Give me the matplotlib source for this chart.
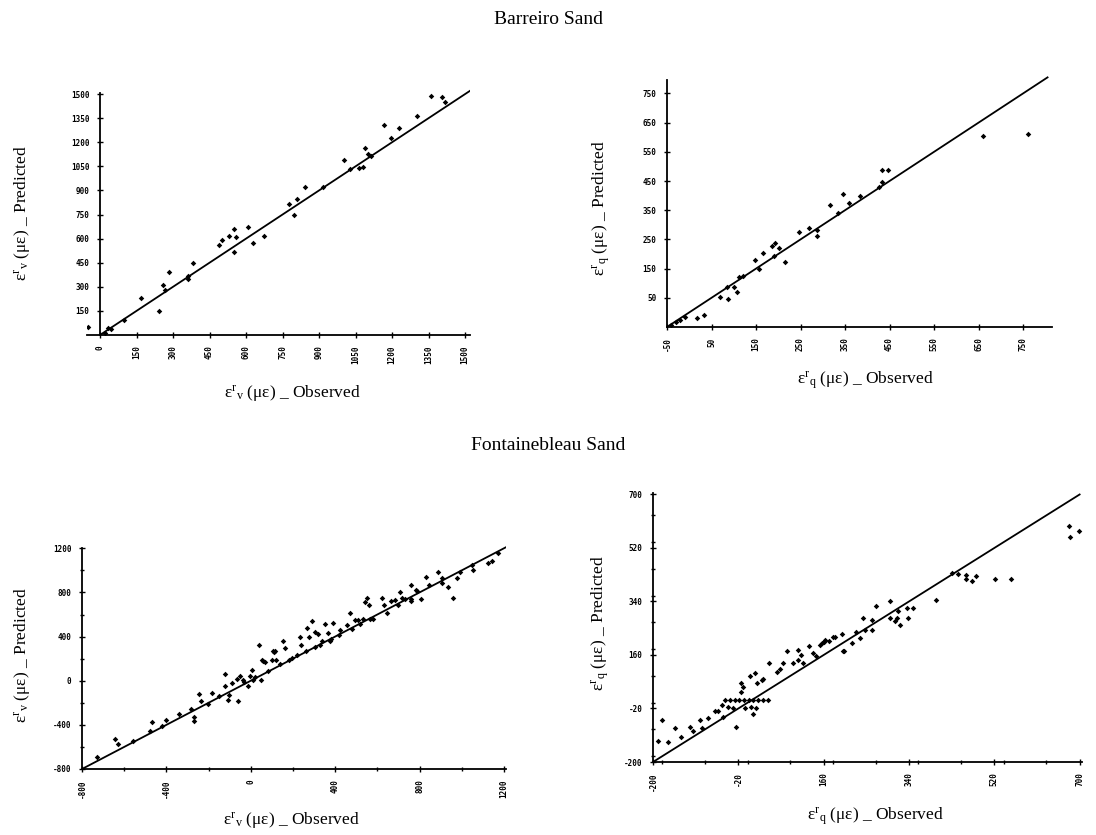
import matplotlib
matplotlib.use("Agg")
import matplotlib.pyplot as plt
from matplotlib.ticker import FixedLocator, MultipleLocator

plt.rcParams['font.family'] = ['Liberation Serif', 'DejaVu Serif']
plt.rcParams['mathtext.fontset'] = 'custom'
plt.rcParams['mathtext.rm'] = 'Liberation Serif'
plt.rcParams['mathtext.it'] = 'Liberation Serif:italic'

# ---------------- data ----------------
title_top = "Barreiro Sand"
title_bottom = "Fontainebleau Sand"

# Barreiro, volumetric
obs1 = [-48, 20, 34, 45, 99, 168, 243, 260, 267, 284, 363, 360, 381, 489, 500, 532, 551, 559, 551,
        607, 630, 675, 777, 795, 808, 843, 918, 1003, 1027, 1062, 1082, 1089, 1103, 1114, 1165,
        1195, 1230, 1304, 1360, 1404, 1418]
pred1 = [48, 15, 42, 35, 93, 230, 151, 311, 280, 390, 346, 365, 446, 560, 591, 618, 660, 612, 516,
         670, 575, 618, 815, 747, 846, 919, 919, 1089, 1031, 1041, 1043, 1166, 1124, 1114, 1307,
         1224, 1290, 1365, 1487, 1479, 1452]

# Barreiro, deviatoric
obs2 = [-40, -30, -21, -10, 18, 33, 69, 84, 88, 101, 107, 112, 121, 148, 157, 165, 185, 190, 193,
        202, 214, 247, 270, 286, 287, 316, 335, 346, 360, 384, 427, 432, 432, 447, 661, 760]
pred2 = [-42, -33, -26, -15, -18, -10, 52, 86, 45, 88, 69, 121, 123, 180, 148, 203, 228, 194, 237,
         222, 174, 274, 289, 263, 283, 368, 340, 405, 374, 397, 428, 445, 489, 489, 603, 612]

# Fontainebleau, volumetric
obs3 = [-727, -644, -628, -560, -470, -478, -420, -402, -340, -283, -269, -269, -245, -237, -201,
        -182, -150, -122, -107, -102, -122, -90, -59, -67, -51, -36, -30, -12, -4, 4, 12, 20, 39,
        47, 52, 59, 69, 80, 99, 107, 110, 115, 119, 140, 151, 162, 180, 194, 220, 233, 237, 260,
        268, 276, 292, 304, 304, 320, 330, 336, 352, 364, 378, 380, 391, 420, 423, 454, 470, 480,
        494, 509, 520, 533, 541, 549, 562, 565, 580, 620, 631, 647, 663, 683, 700, 707, 715, 731,
        759, 758, 760, 783, 790, 805, 833, 846, 889, 905, 905, 933, 957, 979, 991, 1047, 1052,
        1126, 1142, 1173]
pred3 = [-694, -528, -573, -545, -377, -459, -410, -353, -302, -253, -329, -362, -120, -181, -208,
         -111, -140, 61, -172, -127, -45, -21, -181, 15, 39, 9, -10, -52, 39, 100, 9, 30, 326,
         9, 190, 175, 167, 90, 190, 265, 256, 272, 190, 150, 356, 296, 190, 205, 230, 395, 326,
         270, 477, 392, 543, 310, 446, 420, 320, 356, 513, 431, 356, 380, 522, 410, 462, 507, 613,
         470, 552, 552, 510, 558, 709, 748, 688, 558, 560, 748, 688, 618, 718, 733, 690, 808, 748,
         738, 724, 869, 740, 824, 815, 739, 938, 869, 989, 929, 884, 848, 748, 935, 989, 1050,
         1005, 1065, 1089, 1161]

# Fontainebleau, deviatoric
obs4 = [-189, -180, -168, -154, -141, -122, -115, -96, -101, -83, -69, -62, -55, -52, -41, -31,
        -24, -15, -11, -15, -6, 4, 6, 11, 17, 16, 19, 29, 45, 33, 61, 68, 75, 82, 96, 106, 113,
        116, 129, 137, 144, 156, 162, 172, 184, 198, 203, -48, -38, -28, -18, -8, 2, 12, 22, 32,
        42, 106, 152, 161, 180, 201, 219, 229, 236, 242, 247, 261, 261, 270, 299, 299, 310, 317,
        315, 321, 335, 338, 349, 396, 430, 443, 461, 461, 472, 482, 521, 556, 677, 679, 698]
pred4 = [-128, -58, -132, -84, -115, -81, -95, -86, -58, -53, -30, -30, -8, -47, -14, -18,
         -83, 37, 52, 65, -19, 88, -14, -38, -19, 99, 65, 76, 133, 78, 104, 112, 133, 172, 133,
         144, 161, 133, 189, 166, 155, 200, 211, 207, 222, 231, 172, 7, 7, 7, 7, 7, 7, 7, 7, 7,
         7, 177, 194, 203, 222, 175, 200, 239, 217, 284, 245, 279, 245, 326, 340, 284, 273, 307,
         285, 262, 318, 284, 318, 346, 436, 434, 430, 415, 408, 425, 416, 416, 593, 556, 576]

# 1:1 reference line extents
ref1 = [0, 1530]
ref2 = [-50, 805]
ref3 = [-800, 1215]
ref4 = [-200, 700]

ticks1 = [0, 150, 300, 450, 600, 750, 900, 1050, 1200, 1350, 1500]
ticks1y = [150, 300, 450, 600, 750, 900, 1050, 1200, 1350, 1500]
ticks2x = [-50, 50, 150, 250, 350, 450, 550, 650, 750]
ticks2y = [50, 150, 250, 350, 450, 550, 650, 750]
ticks3 = [-800, -400, 0, 400, 800, 1200]
ticks4 = [-200, -20, 160, 340, 520, 700]

# ---------------- figure ----------------
W, H = 1096, 835
fig = plt.figure(figsize=(W / 100, H / 100), dpi=100)


def box(l, r, t, b):
    return [l / W, 1 - b / H, (r - l) / W, (b - t) / H]


tickfont = dict(family='DejaVu Sans Mono', weight='bold', size=5.5)


def style(ax, xt, yt, xlim, ylim, xminor=None, yminor=None, left_at=None, ybounds=None):
    if left_at is not None:
        ax.spines['left'].set_position(('data', left_at))
    ax.set_xlim(*xlim)
    ax.set_ylim(*ylim)
    ax.spines['top'].set_visible(False)
    ax.spines['right'].set_visible(False)
    for s in ('left', 'bottom'):
        ax.spines[s].set_linewidth(1.3)
    if ybounds is not None:
        ax.spines['left'].set_bounds(*ybounds)
    ax.xaxis.set_major_locator(FixedLocator(xt))
    ax.yaxis.set_major_locator(FixedLocator(yt))
    ax.set_xticklabels([str(v) for v in xt], rotation=90, **tickfont)
    ax.set_yticklabels([str(v) for v in yt], **tickfont)
    if xminor:
        ax.xaxis.set_minor_locator(MultipleLocator(xminor))
    if yminor:
        ax.yaxis.set_minor_locator(MultipleLocator(yminor))
    ax.tick_params(which='major', direction='inout', length=5, width=1, pad=5)
    ax.tick_params(which='minor', direction='inout', length=3, width=1)
    ax.patch.set_alpha(0)


def panel(pos, obs, pred, ref):
    ax = fig.add_axes(pos)
    ax.plot(ref, ref, color='black', lw=1.3, zorder=2)
    ax.scatter(obs, pred, s=8, marker='D', color='black', linewidths=0, zorder=3)
    return ax


ax1 = panel(box(86.6, 470, 86, 335), obs1, pred1, ref1)
style(ax1, ticks1, ticks1y, (-55, 1520), (0, 1550), left_at=0, ybounds=(0, 1505))

ax2 = panel(box(667, 1052, 73, 327), obs2, pred2, ref2)
style(ax2, ticks2x, ticks2y, (-50, 815), (-50, 820), ybounds=(-50, 795))

ax3 = panel(box(82, 506, 545, 769), obs3, pred3, ref3)
style(ax3, ticks3, ticks3, (-800, 1210), (-800, 1230), 200, 200, ybounds=(-800, 1205))

ax4 = panel(box(653, 1082, 493, 762), obs4, pred4, ref4)
style(ax4, ticks4, ticks4, (-200, 705), (-200, 705), 90, 90)

# titles
fig.text(548 / W, 1 - 20 / H, title_top, ha='center', va='center', fontsize=14)
fig.text(548 / W, 1 - 446 / H, title_bottom, ha='center', va='center', fontsize=14)

lab_v_obs = r'$\mathrm{\varepsilon}^{\mathrm{r}}{}_{\mathrm{v}}$ ($\mathrm{\mu\varepsilon}$) _ Observed'
lab_v_pred = r'$\mathrm{\varepsilon}^{\mathrm{r}}{}_{\mathrm{v}}$ ($\mathrm{\mu\varepsilon}$) _ Predicted'
lab_q_obs = r'$\mathrm{\varepsilon}^{\mathrm{r}}{}_{\mathrm{q}}$ ($\mathrm{\mu\varepsilon}$) _ Observed'
lab_q_pred = r'$\mathrm{\varepsilon}^{\mathrm{r}}{}_{\mathrm{q}}$ ($\mathrm{\mu\varepsilon}$) _ Predicted'

lf = 12.5
fig.text(292 / W, 1 - 393 / H, lab_v_obs, ha='center', va='center', fontsize=lf)
fig.text(22 / W, 1 - 213 / H, lab_v_pred, ha='center', va='center', fontsize=lf, rotation=90)
fig.text(865 / W, 1 - 380 / H, lab_q_obs, ha='center', va='center', fontsize=lf)
fig.text(601 / W, 1 - 208 / H, lab_q_pred, ha='center', va='center', fontsize=lf, rotation=90)
fig.text(291 / W, 1 - 820 / H, lab_v_obs, ha='center', va='center', fontsize=lf)
fig.text(22 / W, 1 - 655 / H, lab_v_pred, ha='center', va='center', fontsize=lf, rotation=90)
fig.text(875 / W, 1 - 816 / H, lab_q_obs, ha='center', va='center', fontsize=lf)
fig.text(600 / W, 1 - 623 / H, lab_q_pred, ha='center', va='center', fontsize=lf, rotation=90)

fig.savefig('out.png', dpi=100)
